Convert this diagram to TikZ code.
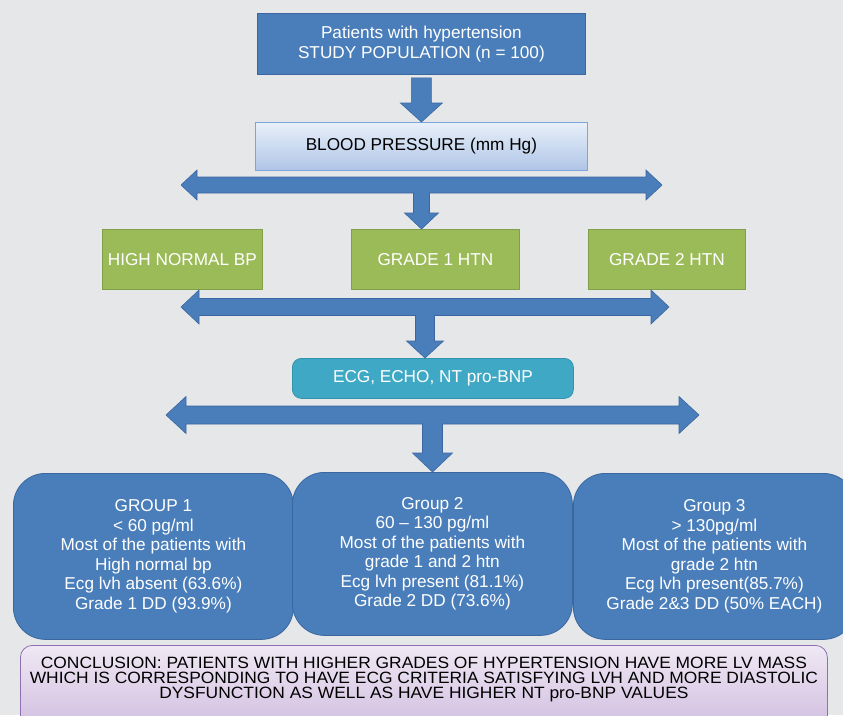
\documentclass[tikz,border=0pt]{standalone}
\usepackage{fontspec}
\setmainfont{Liberation Sans}
\usetikzlibrary{calc}
\definecolor{bgc}{HTML}{E6E7E9}
\definecolor{blu}{HTML}{4A7EBB}
\definecolor{bluedge}{HTML}{3A67A0}
\definecolor{grn}{HTML}{9BBB59}
\definecolor{grnedge}{HTML}{819E48}
\definecolor{tealbox}{HTML}{3FA9C5}
\definecolor{tealedge}{HTML}{3592AC}
\definecolor{bptop}{HTML}{E8F0FA}
\definecolor{bpbot}{HTML}{AFC5E6}
\definecolor{bpedge}{HTML}{7CA6DA}
\definecolor{contop}{HTML}{EFE8F4}
\definecolor{conbot}{HTML}{CDB8DD}
\definecolor{conedge}{HTML}{8E70B2}
\newcommand\tarrow[9]{%
\path[blockarrow] let \p1=(#1), \p2=(#2) in
 (\x1-#3pt,\y1) -- (\x1-#3pt+#6pt,\y1+#5pt) -- (\x1-#3pt+#6pt,\y1+#4pt)
 -- (\x1+#3pt-#6pt,\y1+#4pt) -- (\x1+#3pt-#6pt,\y1+#5pt) -- (\x1+#3pt,\y1)
 -- (\x1+#3pt-#6pt,\y1-#5pt) -- (\x1+#3pt-#6pt,\y1-#4pt) -- (\x2+#7pt,\y1-#4pt)
 -- (\x2+#7pt,\y2+#9pt) -- (\x2+#8pt,\y2+#9pt) -- (\x2,\y2) -- (\x2-#8pt,\y2+#9pt)
 -- (\x2-#7pt,\y2+#9pt) -- (\x2-#7pt,\y1-#4pt) -- (\x1-#3pt+#6pt,\y1-#4pt)
 -- (\x1-#3pt+#6pt,\y1-#5pt) -- cycle;}
\newcommand\darrow[5]{%
\path[blockarrow] let \p1=(#1), \p2=(#2) in
 (\x2-#3pt,\y1) -- (\x2+#3pt,\y1) -- (\x2+#3pt,\y2+#5pt) -- (\x2+#4pt,\y2+#5pt)
 -- (\x2,\y2) -- (\x2-#4pt,\y2+#5pt) -- (\x2-#3pt,\y2+#5pt) -- cycle;}
\begin{document}
\begin{tikzpicture}[x=1pt,y=-1pt,
  txt/.style={font=\fontsize{17.2}{19.5}\selectfont, align=center, inner sep=0pt},
  bluebox/.style={txt, draw=bluedge, fill=blu, text=white, line width=0.8pt, anchor=north west},
  grnbox/.style={txt, draw=grnedge, fill=grn, text=white, line width=0.8pt, anchor=north west, minimum height=60pt},
  grpbox/.style={txt, draw=bluedge, fill=blu, text=white, line width=0.8pt, anchor=north west, rounded corners=32pt, minimum width=280pt},
  blockarrow/.style={fill=blu, draw=bluedge, line width=0.6pt, line join=miter}]
\useasboundingbox (0,0) rectangle (843,715);
\clip (0,0) rectangle (843,715);
\fill[bgc] (0,0) rectangle (843,715);

\node[bluebox, minimum width=328pt, minimum height=61pt] (top) at (257,13)
  {Patients with hypertension\\STUDY POPULATION (n = 100)};
\node[txt, draw=bpedge, top color=bptop, bottom color=bpbot, line width=0.8pt,
  anchor=north west, minimum width=332pt, minimum height=48pt] (bp) at (255,122)
  {BLOOD PRESSURE (mm Hg)};

\node[grnbox, minimum width=160pt] (hn) at (102,229) {HIGH NORMAL BP};
\node[grnbox, minimum width=168pt] (g1) at (351,229) {GRADE 1 HTN};
\node[grnbox, minimum width=157pt] (g2) at (588,229) {GRADE 2 HTN};

\node[txt, draw=tealedge, fill=tealbox, text=white, line width=0.8pt, rounded corners=9pt,
  anchor=north west, minimum width=281pt, minimum height=40pt] (tests) at (292,358)
  {ECG, ECHO, NT pro-BNP};

\node[grpbox, minimum height=166pt] (grp1) at (13,473)
  {GROUP 1\\< 60 pg/ml\\Most of the patients with\\High normal bp\\Ecg lvh absent (63.6\%)\\Grade 1 DD (93.9\%)};
\node[grpbox, minimum height=166pt, minimum width=282pt] (grp3) at (573,473)
  {Group 3\\> 130pg/ml\\Most of the patients with\\grade 2 htn\\Ecg lvh present(85.7\%)\\Grade 2\&3 DD (50\% EACH)};
\node[grpbox, minimum height=163pt] (grp2) at (292,472)
  {Group 2\\60 -- 130 pg/ml\\Most of the patients with\\grade 1 and 2 htn\\Ecg lvh present (81.1\%)\\Grade 2 DD (73.6\%)};

\node[draw=conedge, top color=contop, bottom color=conbot, line width=0.8pt, rounded corners=12pt,
  anchor=north west, minimum width=807pt, minimum height=95pt, inner sep=0pt] (concl) at (20,645) {};
\node[anchor=north, inner sep=0pt] (conctext) at ($(concl.north)+(0,12)$)
  {\scalebox{1}[0.94]{\parbox{820pt}{\centering\fontsize{17.4}{16}\selectfont
  CONCLUSION: PATIENTS WITH HIGHER GRADES OF HYPERTENSION HAVE MORE LV MASS\\
  WHICH IS CORRESPONDING TO HAVE ECG CRITERIA SATISFYING LVH AND MORE DIASTOLIC\\
  DYSFUNCTION AS WELL AS HAVE HIGHER NT pro-BNP VALUES}}};

% arrows
\coordinate (s0) at ($(top.south)+(0,3)$);
\darrow{s0}{bp.north}{10}{21}{19}
\coordinate (bar1) at (421.5,185);
\tarrow{bar1}{bar1 |- g1.north}{240.5}{8}{15}{16}{8}{17}{16}
\coordinate (bar2) at (425,307);
\tarrow{bar2}{bar2 |- tests.north}{244}{8.5}{17}{18}{9.5}{18.5}{17}
\coordinate (bar3) at (432.5,415);
\tarrow{bar3}{bar3 |- grp2.north}{266.5}{9}{18.5}{20}{10}{20}{19}
\end{tikzpicture}
\end{document}
